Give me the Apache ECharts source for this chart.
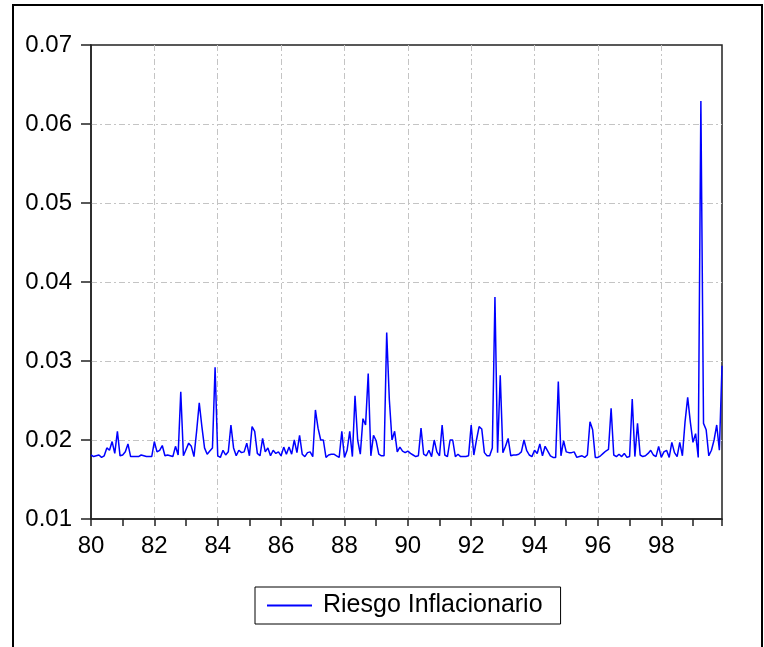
<!DOCTYPE html>
<html>
<head>
<meta charset="utf-8">
<script src="https://cdn.jsdelivr.net/npm/echarts@6/dist/echarts.min.js"></script>
<style>
html, body { margin: 0; padding: 0; background: #fff; }
#chart { width: 764px; height: 647px; }
</style>
</head>
<body>
<div id="chart"></div>
<script>
// serie mensual 1980M01 - 1999M12
var startYear = 80;
var xTicks = [80, 82, 84, 86, 88, 90, 92, 94, 96, 98];
var yTicks = [0.01, 0.02, 0.03, 0.04, 0.05, 0.06, 0.07];
var serieName = 'Riesgo Inflacionario';

var riesgo80_84 = [
	0.0181, 0.0179, 0.0180, 0.0181, 0.0178, 0.0180, 0.0190, 0.0187, 0.0198, 0.0183, 0.0211, 0.0180,
	0.0181, 0.0185, 0.0195, 0.0179, 0.0179, 0.0179, 0.0179, 0.0181, 0.0180, 0.0179, 0.0179, 0.0179,
	0.0198, 0.0185, 0.0187, 0.0193, 0.0180, 0.0181, 0.0180, 0.0179, 0.0192, 0.0181, 0.0261, 0.0180,
	0.0188, 0.0196, 0.0192, 0.0179, 0.0211, 0.0247, 0.0217, 0.0190, 0.0182, 0.0186, 0.0190, 0.0292,
	0.0180, 0.0178, 0.0187, 0.0181, 0.0185, 0.0219, 0.0190, 0.0180, 0.0187, 0.0184, 0.0185, 0.0196
];
var riesgo85_89 = [
	0.0180, 0.0217, 0.0211, 0.0183, 0.0180, 0.0202, 0.0185, 0.0190, 0.0180, 0.0187, 0.0183, 0.0185,
	0.0180, 0.0191, 0.0182, 0.0191, 0.0182, 0.0200, 0.0184, 0.0206, 0.0182, 0.0179, 0.0184, 0.0185,
	0.0179, 0.0238, 0.0215, 0.0200, 0.0200, 0.0178, 0.0181, 0.0182, 0.0182, 0.0180, 0.0178, 0.0211,
	0.0178, 0.0187, 0.0211, 0.0179, 0.0256, 0.0200, 0.0182, 0.0227, 0.0219, 0.0284, 0.0180, 0.0206,
	0.0199, 0.0182, 0.0180, 0.0180, 0.0336, 0.0251, 0.0200, 0.0211, 0.0185, 0.0191, 0.0186, 0.0184
];
var riesgo90_94 = [
	0.0186, 0.0183, 0.0181, 0.0179, 0.0180, 0.0215, 0.0182, 0.0180, 0.0187, 0.0179, 0.0200, 0.0185,
	0.0180, 0.0219, 0.0181, 0.0179, 0.0200, 0.0200, 0.0179, 0.0182, 0.0179, 0.0179, 0.0179, 0.0180,
	0.0219, 0.0181, 0.0200, 0.0217, 0.0214, 0.0184, 0.0180, 0.0180, 0.0190, 0.0381, 0.0184, 0.0282,
	0.0184, 0.0192, 0.0202, 0.0180, 0.0181, 0.0181, 0.0182, 0.0185, 0.0200, 0.0187, 0.0181, 0.0179,
	0.0187, 0.0183, 0.0195, 0.0180, 0.0192, 0.0186, 0.0180, 0.0178, 0.0178, 0.0274, 0.0180, 0.0199
];
var riesgo95_99 = [
	0.0185, 0.0184, 0.0184, 0.0185, 0.0178, 0.0179, 0.0180, 0.0178, 0.0181, 0.0223, 0.0213, 0.0178,
	0.0178, 0.0180, 0.0183, 0.0186, 0.0188, 0.0240, 0.0181, 0.0179, 0.0182, 0.0179, 0.0183, 0.0178,
	0.0179, 0.0252, 0.0179, 0.0221, 0.0181, 0.0179, 0.0180, 0.0183, 0.0187, 0.0181, 0.0179, 0.0192,
	0.0178, 0.0185, 0.0187, 0.0178, 0.0197, 0.0184, 0.0179, 0.0197, 0.0180, 0.0223, 0.0254, 0.0223,
	0.0197, 0.0208, 0.0178, 0.0629, 0.0221, 0.0213, 0.0180, 0.0187, 0.0200, 0.0219, 0.0187, 0.0294
];

var valores = riesgo80_84.concat(riesgo85_89, riesgo90_94, riesgo95_99);
var serie = valores.map(function(v, i) {
	return [startYear + i / 12, v];
});

var fuente = 'Arial, "Liberation Sans", sans-serif';
var gridLine = { color: '#c4c4c4', width: 1, type: [6, 3, 2, 3] };
var ejeLine = { color: '#222', width: 1.5 };

var myChart = echarts.init(document.getElementById('chart'));
var option = {
	animation: false,
	backgroundColor: '#fff',
	graphic: [{
		type: 'rect',
		shape: { x: 13, y: 5, width: 749, height: 700 },
		style: { fill: 'none', stroke: '#000', lineWidth: 2 }
	}],
	grid: {
		left: 91,
		top: 45,
		right: 42,
		bottom: 128,
		show: true,
		borderColor: '#222',
		borderWidth: 1.5
	},
	legend: {
		left: 255,
		top: 587,
		data: [serieName],
		icon: 'rect',
		itemWidth: 45,
		itemHeight: 2,
		itemGap: 0,
		padding: [6, 18, 6, 12],
		borderColor: '#000',
		borderWidth: 1,
		textStyle: {
			fontFamily: fuente,
			fontSize: 25,
			color: '#000',
			padding: [0, 0, 0, 6]
		}
	},
	xAxis: {
		type: 'value',
		min: startYear,
		max: startYear + 239 / 12,
		interval: 2,
		axisLine: { show: true, lineStyle: ejeLine },
		axisTick: { show: true, inside: false, length: 7, lineStyle: ejeLine },
		minorTick: { show: true, splitNumber: 2, length: 7, lineStyle: ejeLine },
		axisLabel: {
			margin: 15,
			fontFamily: fuente,
			fontSize: 24,
			color: '#000',
			showMaxLabel: false,
			formatter: function(v) {
				return xTicks.indexOf(Math.round(v * 1000) / 1000) >= 0 ? String(v) : '';
			}
		},
		splitLine: { show: true, showMinLine: false, showMaxLine: false, lineStyle: gridLine }
	},
	yAxis: {
		type: 'value',
		min: 0.01,
		max: 0.07,
		interval: 0.01,
		axisLine: { show: true, lineStyle: ejeLine },
		axisTick: { show: true, inside: false, length: 10, lineStyle: ejeLine },
		axisLabel: {
			margin: 19,
			fontFamily: fuente,
			fontSize: 24,
			color: '#000',
			formatter: function(v) {
				var r = Math.round(v * 100) / 100;
				return yTicks.indexOf(r) >= 0 ? r.toFixed(2) : '';
			}
		},
		splitLine: { show: true, showMinLine: false, showMaxLine: false, lineStyle: gridLine }
	},
	series: [{
		name: serieName,
		type: 'line',
		data: serie,
		showSymbol: false,
		symbol: 'none',
		lineStyle: { color: '#0000ff', width: 1.5 },
		itemStyle: { color: '#0000ff' }
	}]
};
myChart.setOption(option);
</script>
</body>
</html>
